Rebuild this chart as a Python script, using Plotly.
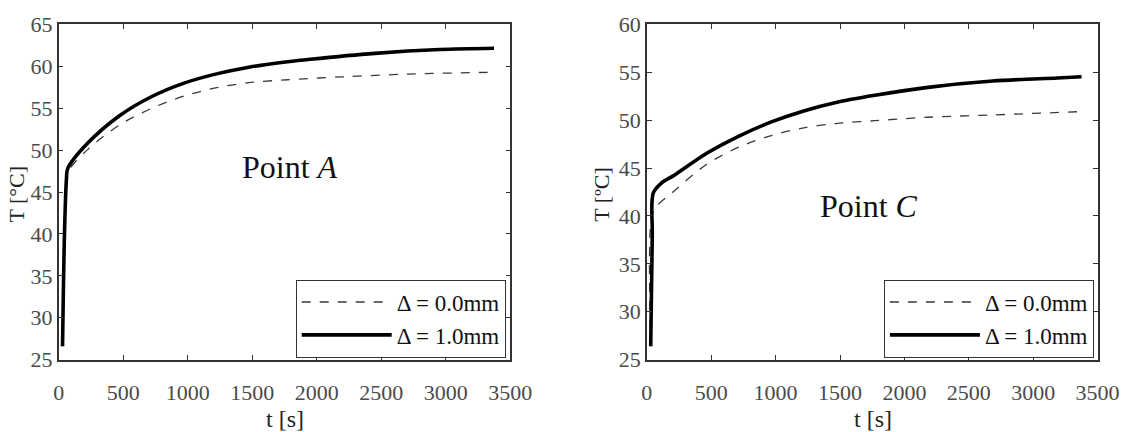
import plotly.graph_objects as go

# ---- Data ----
tA_00 = [30, 45, 60, 80, 220, 471, 722, 972, 1223, 1474, 1774, 2200, 2702, 3374]
TA_00 = [26.6, 40.0, 46.0, 47.6, 50.0, 53.0, 55.0, 56.45, 57.45, 58.05, 58.4, 58.75, 59.07, 59.3]
tA_10 = [30, 45, 60, 70, 220, 471, 722, 972, 1223, 1474, 1774, 1950, 2451, 2953, 3374]
TA_10 = [26.6, 40.0, 46.5, 47.8, 50.75, 54.1, 56.4, 58.0, 59.1, 59.9, 60.55, 60.85, 61.55, 62.0, 62.15]

tC_00 = [30, 38, 75, 213, 465, 716, 967, 1218, 1469, 1771, 2183, 2685, 3376]
TC_00 = [26.4, 40.0, 41.0, 42.62, 45.4, 47.2, 48.4, 49.2, 49.65, 49.95, 50.31, 50.55, 50.9]
tC_10 = [30, 42, 50, 113, 213, 465, 716, 967, 1218, 1469, 1771, 2183, 2685, 3188, 3376]
TC_10 = [26.4, 38.0, 42.4, 43.44, 44.26, 46.55, 48.35, 49.82, 50.97, 51.86, 52.6, 53.43, 54.09, 54.41, 54.54]

x_ticks = [0, 500, 1000, 1500, 2000, 2500, 3000, 3500]
yA_ticks = [25, 30, 35, 40, 45, 50, 55, 60, 65]
yC_ticks = [25, 30, 35, 40, 45, 50, 55, 60]
names = ["\u0394 = 0.0mm", "\u0394 = 1.0mm"]

SERIF = "Liberation Serif"
dash_style = dict(color="#3a3a3a", width=1.3, dash="dash")
thick_style = dict(color="#000000", width=3.6)

fig = go.Figure()
fig.add_trace(go.Scatter(x=tA_00, y=TA_00, mode="lines", name=names[0], line=dash_style,
                         line_shape="spline", line_smoothing=0.9, xaxis="x", yaxis="y", legend="legend"))
fig.add_trace(go.Scatter(x=tA_10, y=TA_10, mode="lines", name=names[1], line=thick_style,
                         line_shape="spline", line_smoothing=0.9, xaxis="x", yaxis="y", legend="legend"))
fig.add_trace(go.Scatter(x=tC_00, y=TC_00, mode="lines", name=names[0], line=dash_style,
                         line_shape="spline", line_smoothing=0.9, xaxis="x2", yaxis="y2", legend="legend2"))
fig.add_trace(go.Scatter(x=tC_10, y=TC_10, mode="lines", name=names[1], line=thick_style,
                         line_shape="spline", line_smoothing=0.9, xaxis="x2", yaxis="y2", legend="legend2"))

axis_common = dict(
    showgrid=False, zeroline=False, showline=True, linecolor="#333333", linewidth=1.5,
    mirror="ticks", ticks="inside", ticklen=5, tickcolor="#333333", tickwidth=1.2,
    tickfont=dict(family=SERIF, size=22, color="#4a4a4a"),
)

W, H = 1140, 432
ydom = [1 - 369 / H, 1 - 13.2 / H]
title_font = dict(family=SERIF, size=24, color="#222222")

fig.update_layout(
    width=W, height=H,
    margin=dict(l=0, r=0, t=0, b=0),
    paper_bgcolor="white", plot_bgcolor="white",
    font=dict(family=SERIF, color="#222222"),
    xaxis=dict(domain=[54 / W, 517 / W], range=[0, 3500], tickvals=x_ticks, anchor="y",
               ticklabelstandoff=12, **axis_common),
    yaxis=dict(domain=ydom, range=[25, 65], tickvals=yA_ticks, anchor="x", **axis_common),
    xaxis2=dict(domain=[657 / W, 1119 / W], range=[0, 3500], tickvals=x_ticks, anchor="y2",
                ticklabelstandoff=12, **axis_common),
    yaxis2=dict(domain=ydom, range=[25, 60], tickvals=yC_ticks, anchor="x2", **axis_common),
    legend=dict(x=297 / W, y=1 - 284 / H, xanchor="left", yanchor="top",
                bgcolor="white", bordercolor="#333333", borderwidth=1,
                font=dict(family=SERIF, size=23, color="#111111"), itemwidth=90, tracegroupgap=0),
    legend2=dict(x=900 / W, y=1 - 284 / H, xanchor="left", yanchor="top",
                 bgcolor="white", bordercolor="#333333", borderwidth=1,
                 font=dict(family=SERIF, size=23, color="#111111"), itemwidth=90, tracegroupgap=0),
    annotations=[
        dict(text="Point <i>A</i>", x=291 / W, y=1 - 165 / H, xref="paper", yref="paper",
             xanchor="center", yanchor="middle",
             showarrow=False, font=dict(family=SERIF, size=32, color="#111111")),
        dict(text="Point <i>C</i>", x=885 / W, y=1 - 206 / H, xref="paper", yref="paper",
             xanchor="center", yanchor="middle",
             showarrow=False, font=dict(family=SERIF, size=32, color="#111111")),
        dict(text="t [s]", x=286 / W, y=0, xref="paper", yref="paper",
             xanchor="center", yanchor="middle", showarrow=False, font=title_font),
        dict(text="t [s]", x=889 / W, y=0, xref="paper", yref="paper",
             xanchor="center", yanchor="middle", showarrow=False, font=title_font),
        dict(text="T [\u00b0C]", x=11 / W, y=1 - 193 / H, xref="paper", yref="paper", textangle=-90,
             xanchor="center", yanchor="middle", showarrow=False,
             font=dict(family=SERIF, size=22, color="#222222")),
        dict(text="T [\u00baC]", x=611 / W, y=1 - 193 / H, xref="paper", yref="paper", textangle=-90,
             xanchor="center", yanchor="middle", showarrow=False,
             font=dict(family=SERIF, size=22, color="#222222")),
    ],
)

fig.write_html("out.html")
